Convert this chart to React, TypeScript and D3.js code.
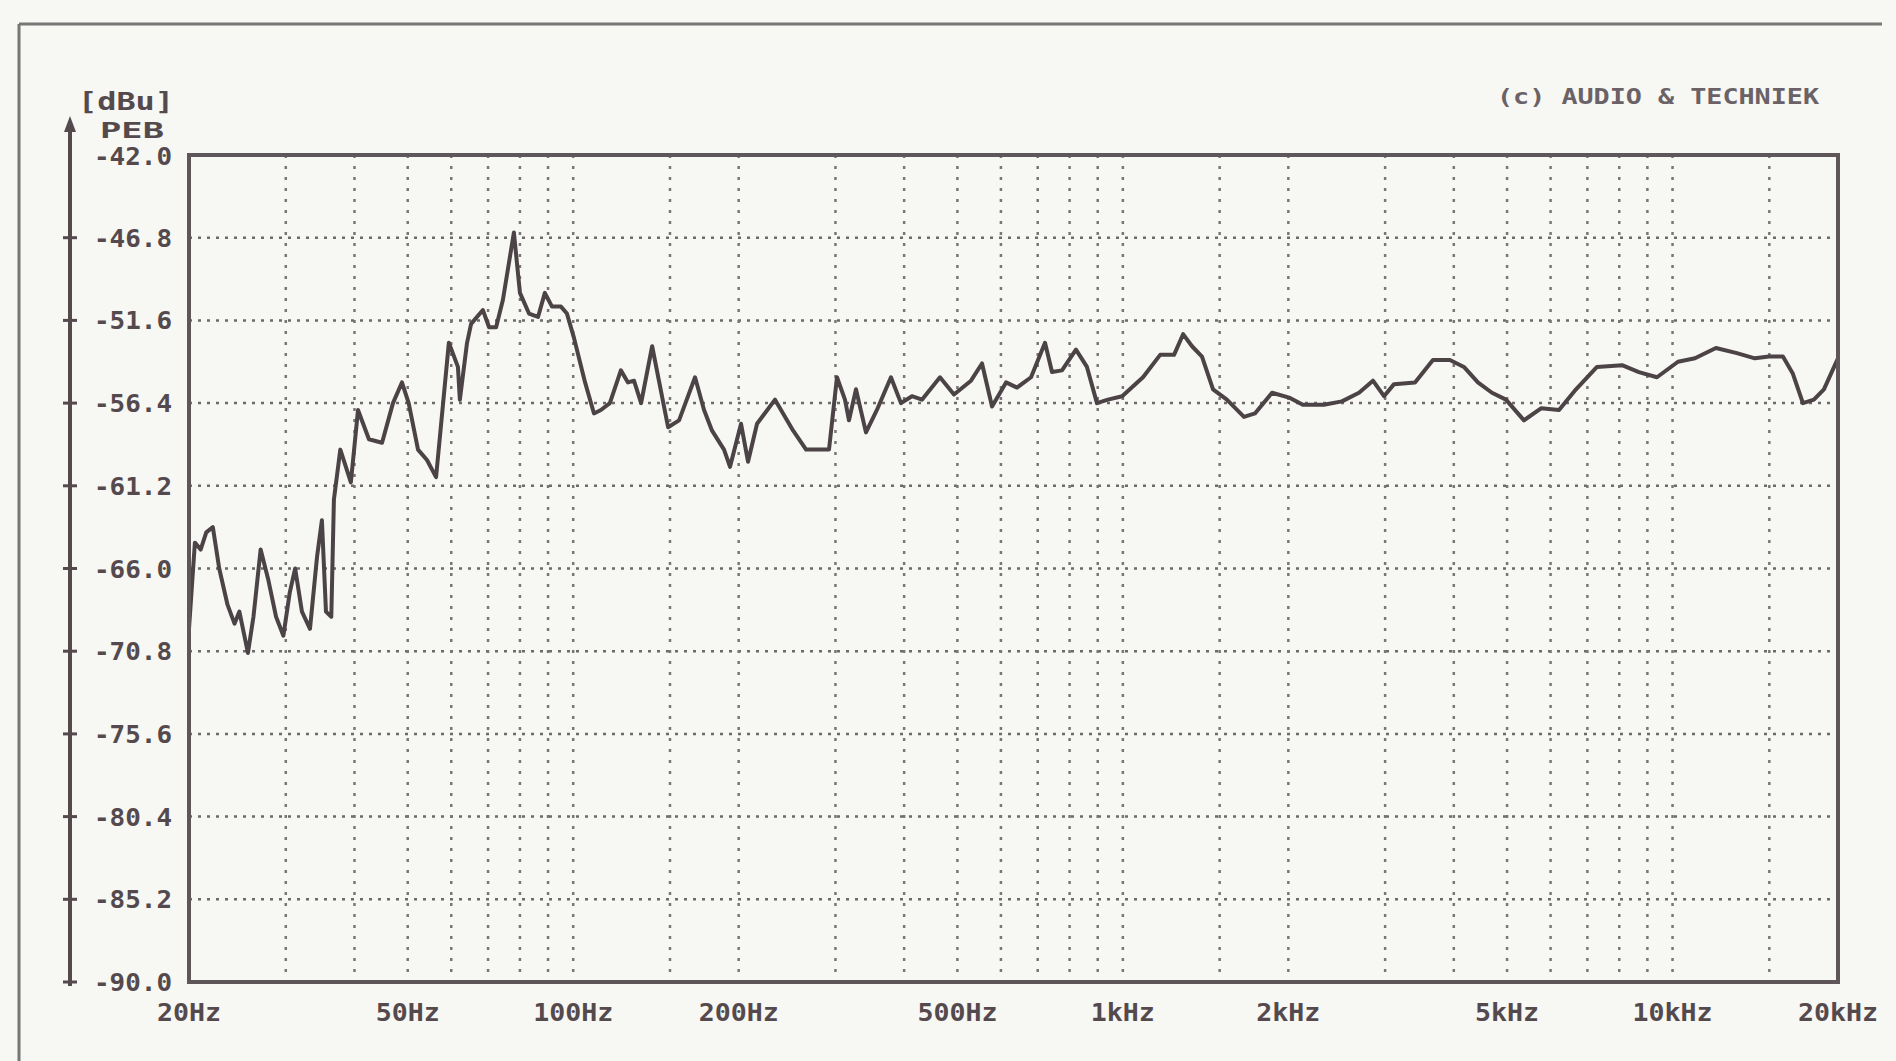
import React from 'react';
import * as d3 from 'd3';

const freqs = [
  20, 20.5, 21.0, 21.5, 22.1, 22.7, 23.5, 24.2, 24.7, 25.6, 26.2, 27.0, 27.9, 28.8, 29.7, 30.5,
  31.2, 32.1, 33.2, 34.2, 34.9, 35.5, 36.3, 36.7, 37.7, 39.4, 40.6, 42.5, 44.9, 47.0, 48.8, 50.2,
  52.2, 54.2, 56.3, 59.4, 61.7, 62.2, 64.1, 65.2, 68.5, 70.3, 72.4, 74.5, 78.0, 80.0, 83.1, 86.3,
  88.8, 91.5, 95.0, 97.4, 100.3, 105.1, 109.1, 112.3, 116.6, 122.1, 125.8, 129.0, 132.9, 139.2,
  143.2, 148.8, 155.8, 166.6, 173.0, 178.9, 188.1, 192.9, 202.0, 208.0, 216.0, 232.9, 251.3,
  265.3, 292.0, 301.9, 312.2, 317.5, 326.9, 340.9, 356.9, 378.5, 394.7, 413.3, 431.0, 464.8,
  492.9, 529.3, 554.3, 578.1, 613.0, 641.9, 680.7, 721.7, 743.2, 774.9, 821.6, 860.3, 897.1,
  939.4, 997.0, 1088, 1169, 1239, 1287, 1336, 1393, 1459, 1546, 1661, 1739, 1868, 2014, 2125,
  2321, 2503, 2689, 2851, 2986, 3114, 3400, 3665, 3936, 4173, 4425, 4693, 4977, 5367, 5764,
  6216, 6674, 7287, 8093, 8686, 9369, 10231, 10986, 11994, 13093, 14119, 14973, 15880, 16558,
  17267, 18079, 18854, 19740, 20000,
];

const levels = [
  -69.5, -64.5, -64.9, -63.9, -63.6, -66.0, -68.1, -69.2, -68.5, -70.9, -68.8, -64.9, -66.7, -68.8, -69.9, -67.4,
  -66.0, -68.5, -69.5, -65.3, -63.2, -68.5, -68.8, -62.0, -59.1, -61.0, -56.8, -58.5, -58.7, -56.4, -55.2, -56.4,
  -59.1, -59.7, -60.7, -52.9, -54.3, -56.2, -52.9, -51.8, -51.0, -52.0, -52.0, -50.4, -46.5, -50.0, -51.2, -51.4,
  -50.0, -50.8, -50.8, -51.2, -52.6, -55.2, -57.0, -56.8, -56.4, -54.5, -55.2, -55.1, -56.4, -53.1,
  -55.1, -57.8, -57.4, -54.9, -56.8, -58.0, -59.1, -60.1, -57.6, -59.8, -57.6, -56.2, -58.0,
  -59.1, -59.1, -54.9, -56.2, -57.4, -55.6, -58.1, -56.8, -54.9, -56.4, -56.0, -56.2, -54.9,
  -55.9, -55.1, -54.1, -56.6, -55.2, -55.5, -54.9, -52.9, -54.6, -54.5, -53.3, -54.3, -56.4,
  -56.2, -56.0, -54.9, -53.6, -53.6, -52.4, -53.1, -53.7, -55.6, -56.2, -57.2, -57.0, -55.8, -56.1, -56.5,
  -56.5, -56.3, -55.8, -55.1, -56.0, -55.3, -55.2, -53.9, -53.9, -54.3, -55.2, -55.8, -56.2, -57.4, -56.7,
  -56.8, -55.6, -54.3, -54.2, -54.6, -54.9, -54.0, -53.8, -53.2, -53.5, -53.8, -53.7, -53.7, -54.7,
  -56.4, -56.2, -55.6, -54.2, -53.8,
];

const yTicks = [-42.0, -46.8, -51.6, -56.4, -61.2, -66.0, -70.8, -75.6, -80.4, -85.2, -90.0];
const xTickFreqs = [20, 50, 100, 200, 500, 1000, 2000, 5000, 10000, 20000];
const xTickLabels = ['20Hz', '50Hz', '100Hz', '200Hz', '500Hz', '1kHz', '2kHz', '5kHz', '10kHz', '20kHz'];
const gridFreqs = [
  30, 40, 50, 60, 70, 80, 90, 100, 150, 200, 300, 400, 500, 600, 700, 800, 900, 1000,
  1500, 2000, 3000, 4000, 5000, 6000, 7000, 8000, 9000, 10000, 15000,
];
const yUnit = '[dBu]';
const yName = 'PEB';
const credit = '(c) AUDIO & TECHNIEK';

const ink = '#544a4e';
const font = '"DejaVu Sans Mono", monospace';

export default function App() {
  const width = 1896;
  const height = 1061;
  const plot = { left: 189, right: 1838, top: 155, bottom: 982 };

  const x = d3.scaleLog().domain([20, 20000]).range([plot.left, plot.right]);
  const y = d3.scaleLinear().domain([-42, -90]).range([plot.top, plot.bottom]);

  const pts: [number, number][] = freqs.map((f, i) => [f, levels[i]]);
  const line = d3.line<[number, number]>()
    .x(d => x(d[0]))
    .y(d => y(d[1]));

  const axisX = 70;

  return (
    <svg width={width} height={height} style={{ position: 'fixed', left: 0, top: 0, background: '#f7f7f3' }}>
      <rect x={0} y={0} width={width} height={height} fill="#f7f7f3" />
      {/* scan frame */}
      <line x1={19} y1={24} x2={1882} y2={24} stroke="#777" strokeWidth={3} />
      <line x1={19} y1={24} x2={19} y2={height} stroke="#777" strokeWidth={3} />

      {/* credit */}
      <text x={1497} y={104} fontFamily={font} fontWeight="bold" fontSize={22} fill="#6a6266"
        textLength={322} lengthAdjust="spacingAndGlyphs">{credit}</text>

      {/* outer value axis */}
      <line x1={axisX} y1={124} x2={axisX} y2={986} stroke={ink} strokeWidth={4} />
      <path d={`M${axisX},116 L${axisX - 6},132 L${axisX + 6},132 Z`} fill={ink} />
      {yTicks.slice(1).map(t => (
        <line key={'ot' + t} x1={axisX - 7} x2={axisX + 7} y1={y(t)} y2={y(t)} stroke={ink} strokeWidth={3} />
      ))}
      <text x={174} y={110} textAnchor="end" fontFamily={font} fontWeight="bold" fontSize={24} fill={ink}
        textLength={96} lengthAdjust="spacingAndGlyphs">{yUnit}</text>
      <text x={164} y={138} textAnchor="end" fontFamily={font} fontWeight="bold" fontSize={22} fill={ink}
        textLength={64} lengthAdjust="spacingAndGlyphs">{yName}</text>
      {yTicks.map(t => (
        <text key={'yl' + t} x={172} y={y(t) + (t === -42 ? 10 : 9)} textAnchor="end" fontFamily={font}
          fontWeight="bold" fontSize={25} fill={ink} textLength={78} lengthAdjust="spacingAndGlyphs">
          {t.toFixed(1)}
        </text>
      ))}

      {/* grid */}
      {yTicks.slice(1, -1).map(t => (
        <line key={'hg' + t} x1={plot.left} x2={plot.right} y1={y(t)} y2={y(t)}
          stroke="#6e6a6c" strokeWidth={2.5} strokeDasharray="3 6" />
      ))}
      {gridFreqs.map(f => (
        <line key={'vg' + f} x1={x(f)} x2={x(f)} y1={plot.top} y2={plot.bottom}
          stroke="#7a7678" strokeWidth={2.5} strokeDasharray="3 8" />
      ))}

      {/* response */}
      <path d={line(pts) || ''} fill="none" stroke="#4b4346" strokeWidth={4} strokeLinejoin="round" />

      {/* plot box */}
      <rect x={plot.left} y={plot.top} width={plot.right - plot.left} height={plot.bottom - plot.top}
        fill="none" stroke="#5e5659" strokeWidth={4} />

      {/* frequency labels */}
      {xTickFreqs.map((f, i) => (
        <text key={'xl' + f} x={x(f)} y={1021} textAnchor="middle" fontFamily={font} fontWeight="bold"
          fontSize={24} fill={ink} textLength={xTickLabels[i].length * 16} lengthAdjust="spacingAndGlyphs">
          {xTickLabels[i]}
        </text>
      ))}
    </svg>
  );
}
